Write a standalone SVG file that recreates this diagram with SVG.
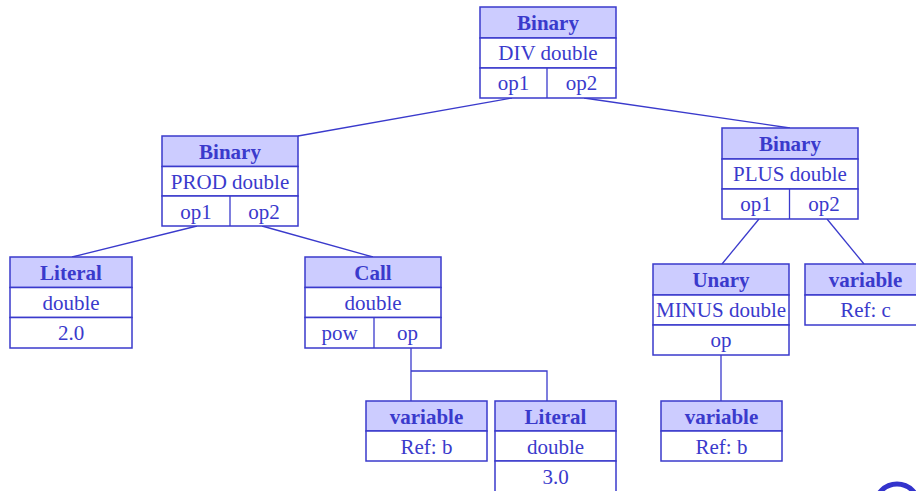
<svg xmlns="http://www.w3.org/2000/svg" width="916" height="491" viewBox="0 0 916 491">
<style>
.hd{fill:#ccccff;stroke:#3a3acc;stroke-width:1.5}
.bx{fill:#ffffff;stroke:#3a3acc;stroke-width:1.5}
.ln{fill:none;stroke:#3a3acc;stroke-width:1.3}
text{font-family:"Liberation Serif","Times New Roman",serif;font-size:21px;fill:#3a3acc;text-anchor:middle}
.b{font-weight:bold}
</style>
<rect width="916" height="491" fill="#ffffff"/>
<g id="connectors">
<line class="ln" x1="512" y1="98" x2="298" y2="136"/>
<line class="ln" x1="584" y1="98" x2="790" y2="128"/>
<line class="ln" x1="197" y1="226" x2="72" y2="257"/>
<line class="ln" x1="262" y1="226" x2="373" y2="257"/>
<polyline class="ln" points="411,348 411,401"/>
<polyline class="ln" points="411,371 547,371 547,401"/>
<line class="ln" x1="759" y1="219" x2="722" y2="264"/>
<line class="ln" x1="827" y1="219" x2="864" y2="264"/>
<line class="ln" x1="721" y1="355" x2="721" y2="401"/>
</g>
<g id="div">
<rect class="hd" x="480" y="7" width="136" height="31"/>
<rect class="bx" x="480" y="38" width="136" height="30"/>
<rect class="bx" x="480" y="68" width="136" height="30"/>
<line class="ln" x1="547" y1="68" x2="547" y2="98"/>
<text class="b" x="548" y="29.5">Binary</text>
<text x="548" y="60">DIV double</text>
<text x="513.5" y="90">op1</text>
<text x="581.5" y="90">op2</text>
</g>
<g id="prod">
<rect class="hd" x="162" y="136" width="136" height="30.5"/>
<rect class="bx" x="162" y="166.5" width="136" height="29.5"/>
<rect class="bx" x="162" y="196" width="136" height="30"/>
<line class="ln" x1="230" y1="196" x2="230" y2="226"/>
<text class="b" x="230" y="159">Binary</text>
<text x="230" y="189">PROD double</text>
<text x="196" y="219">op1</text>
<text x="264" y="219">op2</text>
</g>
<g id="literal1">
<rect class="hd" x="10" y="257" width="122" height="30.5"/>
<rect class="bx" x="10" y="287.5" width="122" height="30"/>
<rect class="bx" x="10" y="317.5" width="122" height="30.5"/>
<text class="b" x="71" y="280">Literal</text>
<text x="71" y="310">double</text>
<text x="71" y="340">2.0</text>
</g>
<g id="call">
<rect class="hd" x="305" y="257" width="136" height="30.5"/>
<rect class="bx" x="305" y="287.5" width="136" height="30"/>
<rect class="bx" x="305" y="317.5" width="136" height="30.5"/>
<line class="ln" x1="374" y1="317.5" x2="374" y2="348"/>
<text class="b" x="373" y="280">Call</text>
<text x="373" y="310">double</text>
<text x="339.5" y="340">pow</text>
<text x="407.5" y="340">op</text>
</g>
<g id="plus">
<rect class="hd" x="722" y="128" width="136" height="31"/>
<rect class="bx" x="722" y="159" width="136" height="30"/>
<rect class="bx" x="722" y="189" width="136" height="30"/>
<line class="ln" x1="789.5" y1="189" x2="789.5" y2="219"/>
<text class="b" x="790" y="151">Binary</text>
<text x="790" y="181">PLUS double</text>
<text x="756" y="211">op1</text>
<text x="824" y="211">op2</text>
</g>
<g id="unary">
<rect class="hd" x="653" y="264" width="136" height="31"/>
<rect class="bx" x="653" y="295" width="136" height="30"/>
<rect class="bx" x="653" y="325" width="136" height="30"/>
<text class="b" x="721" y="287">Unary</text>
<text x="721" y="317">MINUS double</text>
<text x="721" y="347">op</text>
</g>
<g id="varc">
<rect class="hd" x="805" y="264" width="122" height="31"/>
<rect class="bx" x="805" y="295" width="122" height="30"/>
<text class="b" x="865.5" y="287">variable</text>
<text x="865.5" y="317">Ref: c</text>
</g>
<g id="varb1">
<rect class="hd" x="366" y="401" width="121" height="30"/>
<rect class="bx" x="366" y="431" width="121" height="30"/>
<text class="b" x="426.5" y="423.5">variable</text>
<text x="426.5" y="453.5">Ref: b</text>
</g>
<g id="literal2">
<rect class="hd" x="495" y="401" width="121" height="30"/>
<rect class="bx" x="495" y="431" width="121" height="30"/>
<rect class="bx" x="495" y="461" width="121" height="32"/>
<text class="b" x="555.5" y="423.5">Literal</text>
<text x="555.5" y="453.5">double</text>
<text x="555.5" y="483.5">3.0</text>
</g>
<g id="varb2">
<rect class="hd" x="661" y="401" width="121" height="30"/>
<rect class="bx" x="661" y="431" width="121" height="30"/>
<text class="b" x="721.5" y="423.5">variable</text>
<text x="721.5" y="453.5">Ref: b</text>
</g>
<circle cx="897" cy="506" r="22" fill="none" stroke="#3333cc" stroke-width="5"/>
</svg>
